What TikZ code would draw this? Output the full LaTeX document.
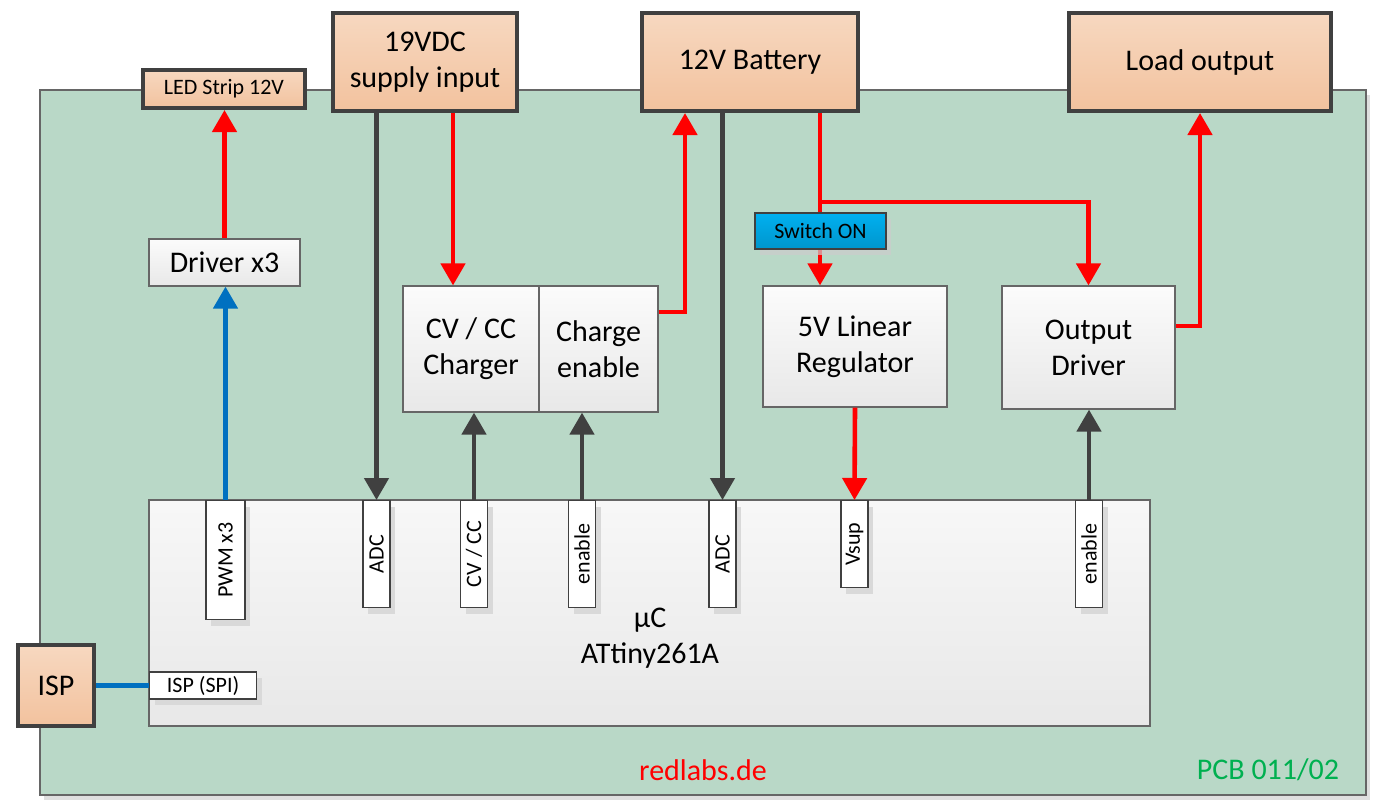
\documentclass[tikz,border=0pt]{standalone}
\usepackage{fontspec}
\setmainfont{Carlito}
\definecolor{pcbgreen}{RGB}{185,216,199}
\definecolor{boxdark}{RGB}{64,64,64}
\definecolor{orangetop}{RGB}{247,216,192}
\definecolor{orangebot}{RGB}{242,194,158}
\definecolor{sigblue}{RGB}{0,112,192}
\definecolor{swblue}{RGB}{0,176,240}
\definecolor{pcbtext}{RGB}{0,176,80}
\usetikzlibrary{arrows.meta,positioning,calc,shadows}

\begin{document}
\begin{tikzpicture}[x=0.5pt, y=-0.5pt,
  every node/.style={font=\fontsize{15}{18}\selectfont, align=center, inner sep=0pt},
  extbox/.style={draw=boxdark, line width=2pt, top color=orangetop, bottom color=orangebot},
  blockbox/.style={draw=boxdark!80, line width=0.6pt, top color=gray!3, bottom color=gray!18},
  pinbox/.style={draw=boxdark, line width=0.6pt, fill=white, rotate=90, anchor=east,
    minimum height=13.5pt, font=\fontsize{11}{13}\selectfont,
    drop shadow={shadow xshift=2.5pt, shadow yshift=-3pt, fill=gray!30, opacity=1}},
  pwrline/.style={red, line width=2.3pt, -{Triangle[length=11pt,width=12pt]}},
  sigline/.style={boxdark, line width=2.3pt, -{Triangle[length=11pt,width=12pt]}},
  pwmline/.style={sigblue, line width=2.3pt, -{Triangle[length=11pt,width=12pt]}}
]
\useasboundingbox (0,0) rectangle (1381,804);
% PCB area
\node[draw=boxdark!80, line width=0.6pt, fill=pcbgreen, minimum width=663pt, minimum height=352.5pt,
  drop shadow={shadow xshift=2pt, shadow yshift=-2.5pt, fill=gray!25, opacity=1}] (pcb) at (703,442.5) {};
\node[text=red] (web) at (703,770) {redlabs.de};
\node[text=pcbtext] (pcbno) at (1268,770) {PCB 011/02};
% External connections
\node[extbox, minimum width=81pt, minimum height=19pt, font=\fontsize{11}{13}\selectfont] (led) at (224,89) {LED Strip 12V};
\node[extbox, minimum width=92pt, minimum height=49pt] (vdc) at (425,62) {19VDC\\supply input};
\node[extbox, minimum width=108pt, minimum height=49pt] (bat) at (750,62) {12V Battery};
\node[extbox, minimum width=131pt, minimum height=49pt] (load) at (1200,62) {Load output};
\node[extbox, minimum width=38pt, minimum height=40.5pt] (isp) at (56,685.5) {ISP};
% Function blocks
\node[blockbox, minimum width=75.5pt, minimum height=23.5pt] (drv) at (224.5,262.5) {Driver x3};
\node[blockbox, minimum width=68pt, minimum height=63pt] (chg) at (471,349) {CV / CC\\Charger};
\node[blockbox, minimum width=59.5pt, minimum height=63pt] (chen) at (598.5,349) {Charge\\enable};
\node[blockbox, minimum width=92pt, minimum height=60.5pt] (reg) at (855,346.5) {5V Linear\\Regulator};
\node[blockbox, minimum width=86.5pt, minimum height=61.5pt] (odrv) at (1088.5,347.5) {Output\\Driver};
% Microcontroller and its pins
\node[draw=boxdark!80, line width=0.6pt, top color=gray!6, bottom color=gray!18,
  minimum width=500.5pt, minimum height=113pt] (mcu) at (649.5,613) {};
\node (mcutxt) at (650,638.5) {µC\\ATtiny261A};
\node[pinbox, minimum width=59.5pt, minimum height=19.5pt] (pwm) at (225.5,500) {PWM x3};
\node[pinbox, minimum width=53.5pt] (adc1) at (376.5,500) {ADC};
\node[pinbox, minimum width=53.5pt] (cvcc) at (474,500) {CV / CC};
\node[pinbox, minimum width=53.5pt] (en1) at (582,500) {enable};
\node[pinbox, minimum width=53.5pt] (adc2) at (722.5,500) {ADC};
\node[pinbox, minimum width=43.5pt] (vsup) at (854.5,500) {Vsup};
\node[pinbox, minimum width=53.5pt] (en2) at (1089,500) {enable};
\node[pinbox, rotate=-90, anchor=west, minimum width=53.5pt] (spi) at (149,685.5) {ISP (SPI)};
% Connections
\draw[pwrline] (drv.north) -- (drv.north |- led.south);
\draw[pwmline] (pwm.east) -- (pwm.east |- drv.south);
\draw[sigline] (adc1.east |- vdc.south) -- (adc1.east);
\coordinate (vdcr) at ([xshift=14pt]vdc.south);
\draw[pwrline] (vdcr) -- (vdcr |- chg.north);
\draw[sigline] (cvcc.east) -- (cvcc.east |- chg.south);
\draw[sigline] (en1.east) -- (en1.east |- chen.south);
\draw[pwrline] ([yshift=18.5pt]chen.east) -| ([xshift=-32.5pt]bat.south);
\draw[sigline] (adc2.east |- bat.south) -- (adc2.east);
\coordinate (batr) at ([xshift=35pt]bat.south);
\coordinate (split) at (batr |- 0,202);
\draw[pwrline] (batr) -- (batr |- reg.north);
\draw[pwrline] (split) -| (odrv.north);
\draw[pwrline] (reg.south) -- (vsup.east);
\draw[sigline] (en2.east) -- (en2.east |- odrv.south);
\draw[pwrline] ([yshift=10.75pt]odrv.east) -| (load.south);
\draw[sigblue, line width=2.3pt] (isp.east) -- (spi.west);
\node[draw=boxdark, line width=0.6pt, top color=swblue, bottom color=swblue!85!black,
  minimum width=65.5pt, minimum height=18pt, font=\fontsize{11}{13}\selectfont,
  drop shadow={shadow xshift=2.5pt, shadow yshift=-3pt, fill=gray!40, opacity=0.7}] (sw) at (820.5,231) {Switch ON};
\end{tikzpicture}
\end{document}
